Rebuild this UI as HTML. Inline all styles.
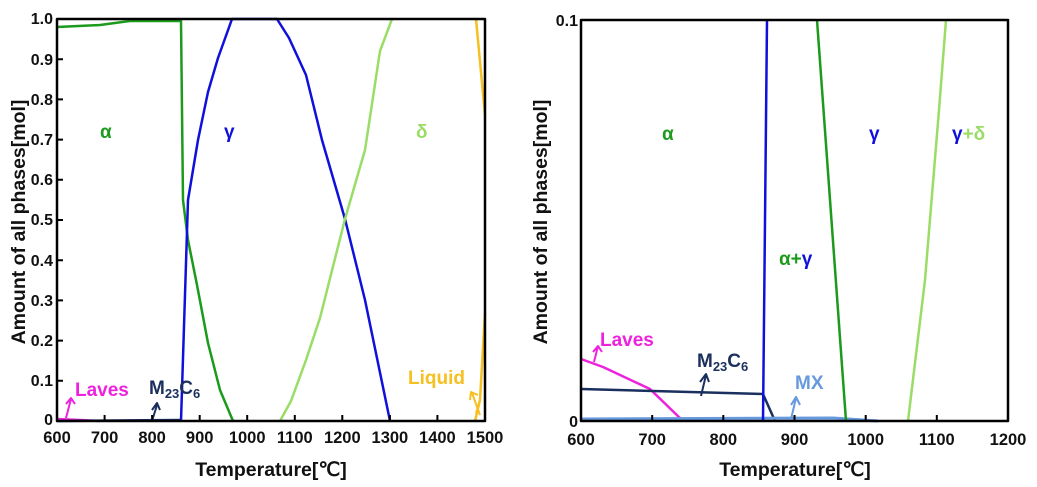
<!DOCTYPE html>
<html><head><meta charset="utf-8"><style>
html,body{margin:0;padding:0;background:#fff;}
svg{display:block;font-family:"Liberation Sans",Arial,sans-serif;font-weight:bold;}
</style></head><body>
<svg width="1037" height="487" viewBox="0 0 1037 487" xmlns="http://www.w3.org/2000/svg">
<g fill="none" stroke-width="2.5" stroke-linejoin="round">
<polyline stroke="#ee22dd" points="57,419 80,420 100,421"/>
<polyline stroke="#1a2f5e" points="57,421 181,420"/>
<polyline stroke="#1c9a1c" points="57,27 100,25 130,21 181,21 183,200 188,240 197,285 208,343 220,390 233,421"/>
<polyline stroke="#1010dd" points="181,421 188,200 198,140 208,92 218,58 232,19 277,19 289,38 306,75 322,140 345,219 365,300 390,421"/>
<polyline stroke="#99dd66" points="280,421 291,401 306,360 320,318 345,219 365,150 380,51 392,19"/>
<polyline stroke="#f5c020" points="475,421 480,400 485,313"/>
<polyline stroke="#f5c020" points="476,19 485,115"/>
<polyline stroke="#ee22dd" points="581,359 603,367 650,389 683,421"/>
<polyline stroke="#1a2f5e" points="581,389 763,394 775,421"/>
<polyline stroke="#6699dd" stroke-width="3" points="581,419 833,418 878,421"/>
<polyline stroke="#1010dd" points="763,421 767,20"/>
<polyline stroke="#1c9a1c" points="817,20 846,421"/>
<polyline stroke="#99dd66" points="908,421 925,280 939,110 946,20"/>
<g stroke-width="2">
<path stroke="#ee22dd" d="M66,418 L71,399 M66,404 L71,398 L75,404"/>
<path stroke="#1a2f5e" d="M152,421 L157,405 M152,410 L157,403 L160,410"/>
<path stroke="#f5c020" d="M480,415 L472,393 M470,400 L471,392 L478,395 M480,400 L476,413"/>
<path stroke="#ee22dd" d="M594,362 L598,346 M593,352 L598,346 L602,352"/>
<path stroke="#1a2f5e" d="M701,396 L706,375 M700,382 L706,374 L709,382"/>
<path stroke="#6699dd" d="M791,419 L796,398 M791,405 L796,397 L800,405"/>
</g>
<rect x="57" y="19" width="428" height="402" stroke="#000" stroke-width="2.5"/>
<rect x="581" y="20" width="427" height="401" stroke="#000" stroke-width="2.5"/>
</g>
<g stroke="#000" stroke-width="2">
<path d="M104.6,421v-6M152.1,421v-6M199.7,421v-6M247.2,421v-6M294.8,421v-6M342.3,421v-6M389.9,421v-6M437.4,421v-6"/>
<path d="M57,59.2h6M57,99.4h6M57,139.6h6M57,179.8h6M57,220h6M57,260.2h6M57,300.4h6M57,340.6h6M57,380.8h6"/>
<path d="M652.2,421v-6M723.3,421v-6M794.5,421v-6M865.7,421v-6M936.8,421v-6"/>
</g>
<g font-size="16" fill="#111" text-anchor="end">
<text x="53" y="24">1.0</text><text x="53" y="65">0.9</text><text x="53" y="105">0.8</text><text x="53" y="145">0.7</text>
<text x="53" y="185">0.6</text><text x="53" y="225">0.5</text><text x="53" y="266">0.4</text><text x="53" y="306">0.3</text>
<text x="53" y="346">0.2</text><text x="53" y="386">0.1</text><text x="53" y="425">0</text>
<text x="578" y="26">0.1</text><text x="578" y="427">0</text>
</g>
<g font-size="16.5" fill="#111" text-anchor="middle">
<text x="57" y="443">600</text><text x="104.6" y="443">700</text><text x="152.1" y="443">800</text><text x="199.7" y="443">900</text>
<text x="247.2" y="443">1000</text><text x="294.8" y="443">1100</text><text x="342.3" y="443">1200</text><text x="389.9" y="443">1300</text>
<text x="437.4" y="443">1400</text><text x="485" y="443">1500</text>
<text x="581" y="445">600</text><text x="652.2" y="445">700</text><text x="723.3" y="445">800</text><text x="794.5" y="445">900</text>
<text x="865.7" y="445">1000</text><text x="936.8" y="445">1100</text><text x="1008" y="445">1200</text>
</g>
<g font-size="19.5" fill="#111" text-anchor="middle">
<text x="271" y="476">Temperature[℃]</text>
<text x="795" y="476">Temperature[℃]</text>
<text transform="translate(25,222) rotate(-90)">Amount of all phases[mol]</text>
<text transform="translate(547,222) rotate(-90)">Amount of all phases[mol]</text>
</g>
<g font-size="19">
<text x="100" y="138" fill="#1c9a1c">α</text>
<text x="224" y="138" fill="#1010dd">γ</text>
<text x="416" y="138" fill="#99dd66">δ</text>
<text x="75" y="396" fill="#ee22dd">Laves</text>
<text x="149" y="394" fill="#1a2f5e">M<tspan font-size="13" dy="4">23</tspan><tspan dy="-4">C</tspan><tspan font-size="13" dy="4">6</tspan></text>
<text x="408" y="384" fill="#f5c020">Liquid</text>
<text x="662" y="140" fill="#1c9a1c">α</text>
<text x="869" y="140" fill="#1010dd">γ</text>
<text x="952" y="140" fill="#1010dd">γ<tspan fill="#99dd66">+δ</tspan></text>
<text x="779" y="265" fill="#1c9a1c">α+<tspan fill="#1010dd">γ</tspan></text>
<text x="600" y="346" fill="#ee22dd">Laves</text>
<text x="697" y="367" fill="#1a2f5e">M<tspan font-size="13" dy="4">23</tspan><tspan dy="-4">C</tspan><tspan font-size="13" dy="4">6</tspan></text>
<text x="795" y="389" fill="#6699dd">MX</text>
</g>
</svg>
</body></html>
